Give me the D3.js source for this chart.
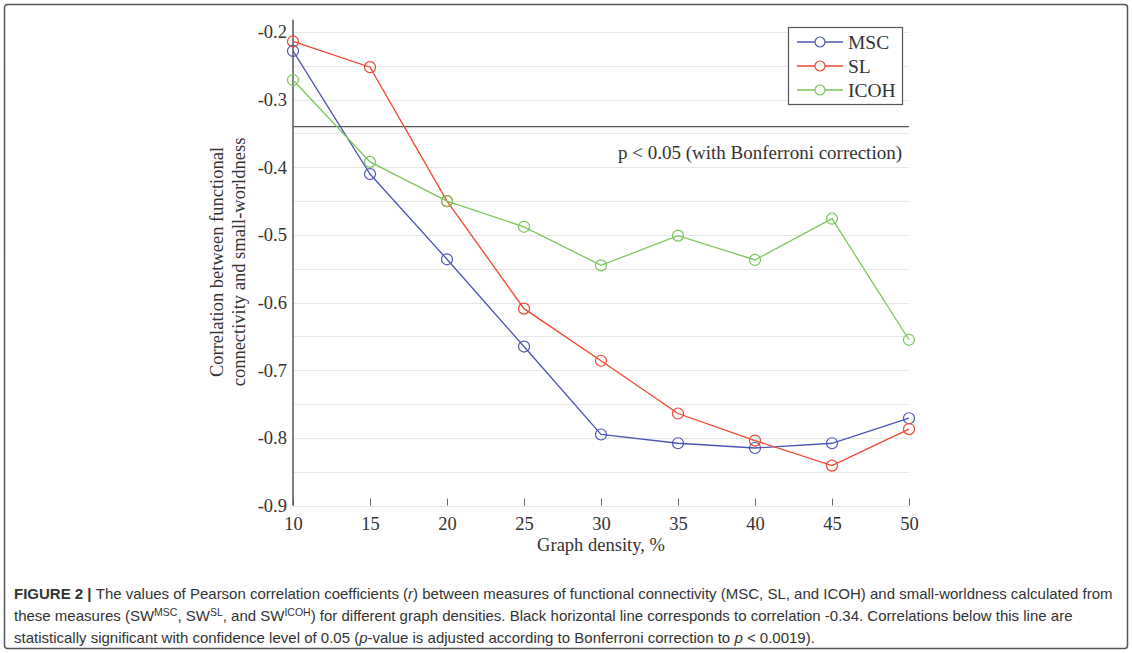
<!DOCTYPE html>
<html lang="en">
<head>
<meta charset="UTF-8">
<title>Figure 2</title>
<script src="https://cdn.jsdelivr.net/npm/d3@7"></script>
<style>
body { margin: 0; background: #fff; }
svg { display: block; }
.grid line { stroke: #e6e6e6; stroke-width: 1px; }
.tick text { font: 18.5px "Liberation Serif", serif; fill: #333; }
.axis-title { font: 18px "Liberation Serif", serif; fill: #333; }
.caption { font: 15px "Liberation Sans", sans-serif; fill: #333; }
</style>
</head>
<body>
<div id="chart"></div>
<script>

const densities = [10, 15, 20, 25, 30, 35, 40, 45, 50];
const msc  = [-0.228, -0.410, -0.536, -0.665, -0.795, -0.808, -0.815, -0.808, -0.771];
const sl   = [-0.214, -0.252, -0.450, -0.609, -0.686, -0.764, -0.804, -0.841, -0.787];
const icoh = [-0.271, -0.392, -0.450, -0.488, -0.545, -0.501, -0.537, -0.476, -0.655];
const seriesNames = ["MSC", "SL", "ICOH"];
const seriesColors = ["#4c56b4", "#f2442f", "#7cc65a"];
const yTicks = [-0.2, -0.3, -0.4, -0.5, -0.6, -0.7, -0.8, -0.9];
const threshold = -0.34;

const W = 1132, H = 653;
const svg = d3.select("#chart").append("svg")
    .attr("width", W)
    .attr("height", H);

// figure frame
svg.append("rect")
    .attr("x", 4.5).attr("y", 4.5)
    .attr("width", W - 9).attr("height", H - 9)
    .attr("rx", 3)
    .attr("fill", "none")
    .attr("stroke", "#555")
    .attr("stroke-width", 1.5);

const x = d3.scaleLinear().domain([10, 50]).range([293, 909]);
const y = d3.scaleLinear().domain([-0.9, -0.2]).range([505.5, 32]);
const yTop = y(-0.182);

// grid every 0.05
const gridVals = d3.range(0, 15).map(i => -0.9 + i * 0.05);
svg.append("g").attr("class", "grid")
    .selectAll("line")
    .data(gridVals)
    .join("line")
    .attr("x1", x(10)).attr("x2", x(50))
    .attr("y1", d => Math.round(y(d)) + 0.5)
    .attr("y2", d => Math.round(y(d)) + 0.5);

// x axis: inward ticks, no domain line
const xAxis = svg.append("g")
    .attr("transform", `translate(0,${y(-0.9)})`)
    .call(d3.axisBottom(x).tickValues(densities).tickSize(-7).tickPadding(15));
xAxis.select(".domain").remove();
xAxis.selectAll(".tick line").attr("stroke", "#666");
xAxis.selectAll(".tick text").attr("dy", "0.5em");

// y axis
const yAxis = svg.append("g")
    .attr("transform", `translate(${x(10)},0)`)
    .call(d3.axisLeft(y).tickValues(yTicks).tickSize(0).tickPadding(6)
        .tickFormat(d => d.toFixed(1)));
yAxis.select(".domain").remove();
svg.append("line")
    .attr("x1", x(10)).attr("x2", x(10))
    .attr("y1", yTop).attr("y2", y(-0.9))
    .attr("stroke", "#555").attr("stroke-width", 1.5);

// significance line
svg.append("line")
    .attr("x1", x(10)).attr("x2", x(50))
    .attr("y1", y(threshold)).attr("y2", y(threshold))
    .attr("stroke", "#555").attr("stroke-width", 1.3);
svg.append("text")
    .attr("class", "axis-title")
    .attr("x", 902).attr("y", 159)
    .attr("text-anchor", "end")
    .style("font-size", "19px")
    .text("p < 0.05 (with Bonferroni correction)");

// series
const allSeries = [msc, sl, icoh];
const line = d3.line().x((d, i) => x(densities[i])).y(d => y(d));
allSeries.forEach((vals, k) => {
    const g = svg.append("g");
    g.append("path")
        .datum(vals)
        .attr("fill", "none")
        .attr("stroke", seriesColors[k])
        .attr("stroke-width", 1.3)
        .attr("d", line);
    g.selectAll("circle")
        .data(vals)
        .join("circle")
        .attr("cx", (d, i) => x(densities[i]))
        .attr("cy", d => y(d))
        .attr("r", 5.5)
        .attr("fill", "none")
        .attr("stroke", seriesColors[k])
        .attr("stroke-width", 1.2);
});

// legend
const legend = svg.append("g");
legend.append("rect")
    .attr("x", 788.5).attr("y", 27.5)
    .attr("width", 114).attr("height", 77)
    .attr("fill", "#fff")
    .attr("stroke", "#555").attr("stroke-width", 1.2);
seriesNames.forEach((name, k) => {
    const ly = 42 + k * 24;
    legend.append("line")
        .attr("x1", 797).attr("x2", 843)
        .attr("y1", ly).attr("y2", ly)
        .attr("stroke", seriesColors[k]).attr("stroke-width", 1.3);
    legend.append("circle")
        .attr("cx", 820).attr("cy", ly).attr("r", 5)
        .attr("fill", "#fff")
        .attr("stroke", seriesColors[k]).attr("stroke-width", 1.2);
    legend.append("text")
        .attr("class", "axis-title")
        .attr("x", 848).attr("y", ly + 6.5)
        .style("font-size", "19.5px")
        .text(name);
});

// axis titles
svg.append("text")
    .attr("class", "axis-title")
    .attr("x", x(30)).attr("y", 551)
    .attr("text-anchor", "middle")
    .style("font-size", "18.5px")
    .text("Graph density, %");
const yt = svg.append("text")
    .attr("class", "axis-title")
    .attr("text-anchor", "middle")
    .style("font-size", "18.5px")
    .attr("transform", "translate(223,262) rotate(-90)");
yt.append("tspan").attr("x", 0).attr("y", 0).text("Correlation between functional");
yt.append("tspan").attr("x", 0).attr("y", 22).text("connectivity and small-worldness");

// caption
const l1 = svg.append("text").attr("class", "caption").attr("x", 14).attr("y", 599);
l1.append("tspan").attr("font-weight", "bold").text("FIGURE 2 | ");
l1.append("tspan").text("The values of Pearson correlation coefficients (");
l1.append("tspan").attr("font-style", "italic").text("r");
l1.append("tspan").text(") between measures of functional connectivity (MSC, SL, and ICOH) and small-worldness calculated from");

const l2 = svg.append("text").attr("class", "caption").attr("x", 14).attr("y", 621);
l2.append("tspan").text("these measures (SW");
l2.append("tspan").attr("font-size", 10.5).attr("dy", -5).text("MSC");
l2.append("tspan").attr("dy", 5).text(", SW");
l2.append("tspan").attr("font-size", 10.5).attr("dy", -5).text("SL");
l2.append("tspan").attr("dy", 5).text(", and SW");
l2.append("tspan").attr("font-size", 10.5).attr("dy", -5).text("ICOH");
l2.append("tspan").attr("dy", 5).text(") for different graph densities. Black horizontal line corresponds to correlation -0.34. Correlations below this line are");

const l3 = svg.append("text").attr("class", "caption").attr("x", 14).attr("y", 643);
l3.append("tspan").text("statistically significant with confidence level of 0.05 (");
l3.append("tspan").attr("font-style", "italic").text("p");
l3.append("tspan").text("-value is adjusted according to Bonferroni correction to ");
l3.append("tspan").attr("font-style", "italic").text("p");
l3.append("tspan").text(" < 0.0019).");
</script>
</body>
</html>
